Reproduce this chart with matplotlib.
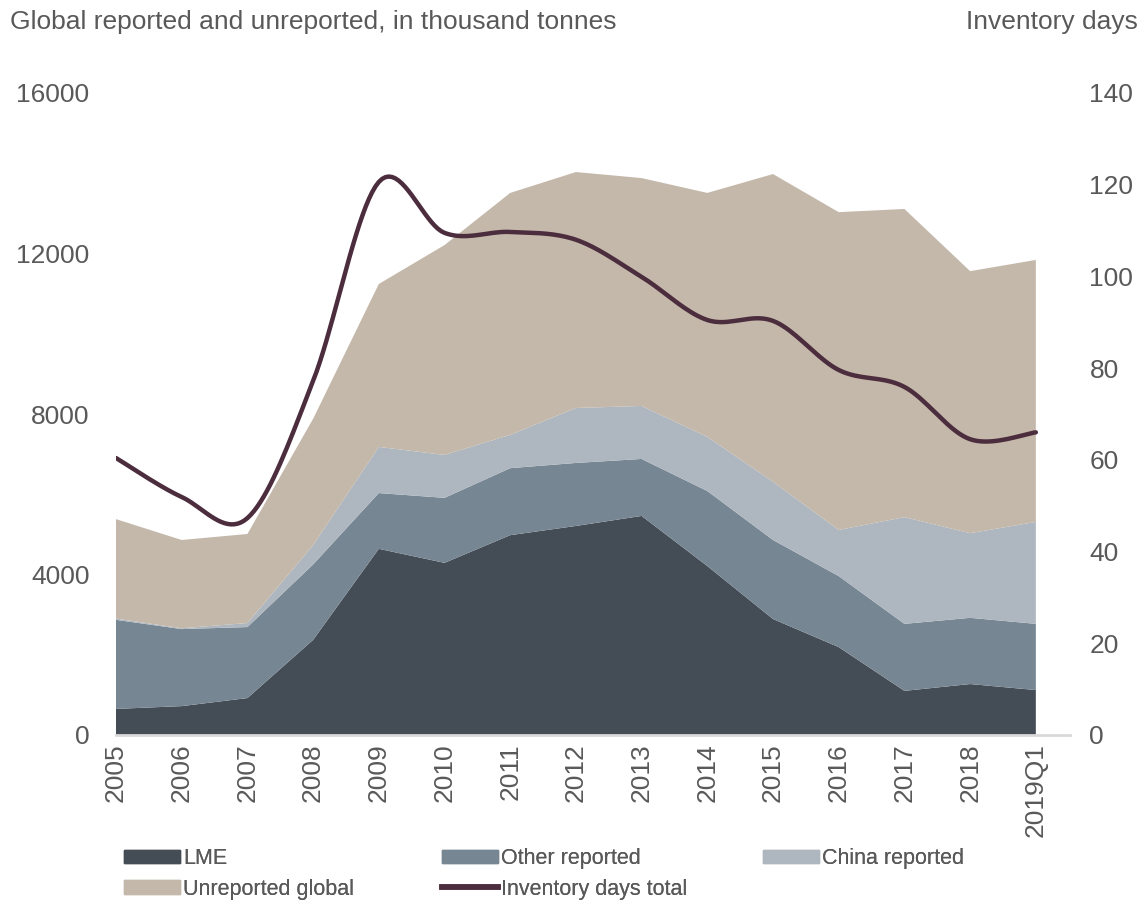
import numpy as np
import matplotlib
matplotlib.use("Agg")
import matplotlib.pyplot as plt
from matplotlib.patches import Patch
from matplotlib.lines import Line2D

plt.rcParams['font.family'] = ['Liberation Sans', 'DejaVu Sans']

categories = ["2005", "2006", "2007", "2008", "2009", "2010", "2011", "2012",
              "2013", "2014", "2015", "2016", "2017", "2018", "2019Q1"]
lme = [650, 720, 920, 2370, 4640, 4290, 4980, 5210, 5460, 4210, 2890, 2190, 1100, 1270, 1120]
other_reported = [2220, 1920, 1770, 1880, 1390, 1620, 1670, 1570, 1420, 1870, 1970, 1770, 1670, 1650, 1650]
china_reported = [30, 20, 100, 480, 1150, 1070, 830, 1370, 1320, 1350, 1450, 1150, 2660, 2110, 2540]
unreported_global = [2480, 2200, 2220, 3150, 4060, 5230, 6030, 5880, 5680, 6080, 7670, 7920, 7680, 6530, 6530]
inventory_days = [60.4, 51.9, 47.3, 77.2, 120.6, 109.5, 109.7, 108.0, 99.9, 90.5, 90.3, 79.6, 75.9, 64.5, 66.0]

series_names = ["LME", "Other reported", "China reported", "Unreported global"]
colors = ["#444c56", "#768693", "#aeb6bf", "#c4b8aa"]
line_color = "#4b2d3e"
text_color = "#595959"


def smooth_path(xs, ys, n=20):
    # Catmull-Rom style smoothing for drawing (like spreadsheet "smoothed line")
    xs = np.asarray(xs, float)
    ys = np.asarray(ys, float)
    px = np.concatenate([[xs[0]], xs, [xs[-1]]])
    py = np.concatenate([[ys[0]], ys, [ys[-1]]])
    ox, oy = [], []
    t = np.linspace(0, 1, n, endpoint=False)
    for i in range(1, len(px) - 2):
        p0x, p1x, p2x, p3x = px[i - 1], px[i], px[i + 1], px[i + 2]
        p0y, p1y, p2y, p3y = py[i - 1], py[i], py[i + 1], py[i + 2]
        c1x = p1x + (p2x - p0x) / 6
        c1y = p1y + (p2y - p0y) / 6
        c2x = p2x - (p3x - p1x) / 6
        c2y = p2y - (p3y - p1y) / 6
        bx = (1 - t) ** 3 * p1x + 3 * (1 - t) ** 2 * t * c1x + 3 * (1 - t) * t ** 2 * c2x + t ** 3 * p2x
        by = (1 - t) ** 3 * p1y + 3 * (1 - t) ** 2 * t * c1y + 3 * (1 - t) * t ** 2 * c2y + t ** 3 * p2y
        ox.extend(bx)
        oy.extend(by)
    ox.append(xs[-1])
    oy.append(ys[-1])
    return np.array(ox), np.array(oy)


fig = plt.figure(figsize=(11.43, 9.01), dpi=100)
ax = fig.add_axes([116 / 1143, 1 - 735 / 901, (1070 - 116) / 1143, (735 - 93) / 901])
x = np.arange(len(categories))
ax.stackplot(x, lme, other_reported, china_reported, unreported_global,
             colors=colors, labels=series_names, linewidth=0)
ax.set_xlim(0, 14.52)
ax.set_ylim(0, 16000)
ax.set_yticks([0, 4000, 8000, 12000, 16000])
ax.set_xticks(x)
ax.set_xticklabels(categories, rotation=90, va='top')
for s in ['top', 'right', 'left']:
    ax.spines[s].set_visible(False)
ax.spines['bottom'].set_color('#d9d9d9')
ax.spines['bottom'].set_linewidth(2)
ax.tick_params(axis='both', length=0, labelsize=19, colors=text_color)
ax.tick_params(axis='y', pad=19)
ax.tick_params(axis='x', pad=6)

ax2 = ax.twinx()
ax2.set_ylim(0, 140)
ax2.set_yticks([0, 20, 40, 60, 80, 100, 120, 140])
for s in ['top', 'right', 'left', 'bottom']:
    ax2.spines[s].set_visible(False)
ax2.tick_params(axis='y', length=0, labelsize=19, colors=text_color, pad=14)
sx, sy = smooth_path(x, inventory_days)
ax2.plot(sx, sy, color=line_color, linewidth=3.2, solid_capstyle='round')

fig.text(10 / 1143, 1 - 22 / 901, "Global reported and unreported, in thousand tonnes",
         fontsize=19, color=text_color, va='center', ha='left')
fig.text(1138 / 1143, 1 - 22 / 901, "Inventory days",
         fontsize=19, color=text_color, va='center', ha='right')

# Legend, laid out in three columns
leg_cols = [
    (124, [Patch(color=colors[0], label="LME"), Patch(color=colors[3], label="Unreported global")]),
    (442, [Patch(color=colors[1], label="Other reported"),
           Line2D([0], [0], color=line_color, linewidth=4, label="Inventory days total")]),
    (763, [Patch(color=colors[2], label="China reported")]),
]
for xpos, handles in leg_cols:
    lg = fig.legend(handles=handles, loc='upper left',
                    bbox_to_anchor=(xpos / 1143, 1 - 848 / 901),
                    frameon=False, fontsize=15.5, handlelength=2.6, handleheight=0.6,
                    handletextpad=0.15, labelspacing=0.45, borderpad=0, borderaxespad=0,
                    labelcolor=text_color)
    fig.add_artist(lg)

fig.savefig("out.png", dpi=100, facecolor='white')
